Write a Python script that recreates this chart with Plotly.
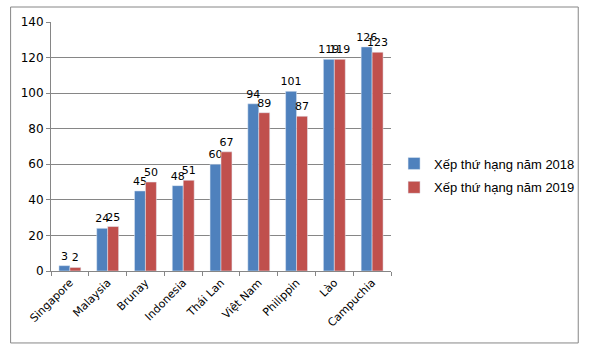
import plotly.graph_objects as go

categories = ["Singapore", "Malaysia", "Brunay", "Indonesia", "Thái Lan", "Việt Nam", "Philippin", "Lào", "Campuchia"]
rank_2018 = [3, 24, 45, 48, 60, 94, 101, 119, 126]
rank_2019 = [2, 25, 50, 51, 67, 89, 87, 119, 123]
series_names = ["Xếp thứ hạng năm 2018", "Xếp thứ hạng năm 2019"]
colors = ["#4F81BD", "#C0504D"]

fig = go.Figure()
for i, (name, vals, col) in enumerate(zip(series_names, [rank_2018, rank_2019], colors)):
    fig.add_trace(go.Bar(
        x=categories, y=vals, name=name, marker_color=col, legendgroup=f"g{i}",
        text=vals, textposition="outside", cliponaxis=False,
        textfont=dict(family="DejaVu Sans", size=11, color="#000000"),
    ))

fig.update_layout(
    width=592, height=349,
    margin=dict(l=51, r=196, t=22, b=78),
    paper_bgcolor="white", plot_bgcolor="white",
    barmode="group", bargap=0.42, bargroupgap=0,
    font=dict(family="DejaVu Sans", size=11, color="#000000"),
    legend=dict(x=1.009, y=0.492, xanchor="left", yanchor="top",
                font=dict(family="Liberation Sans", size=13),
                tracegroupgap=4, bgcolor="rgba(0,0,0,0)"),
    uniformtext=dict(mode="show", minsize=11),
    shapes=[dict(type="rect", xref="paper", yref="paper",
                 x0=-0.1188, x1=1.5507, y0=-0.289, y1=1.0602,
                 line=dict(color="#868686", width=1), fillcolor="rgba(0,0,0,0)", layer="below")],
)
fig.update_xaxes(
    type="category", tickangle=-45, showgrid=False,
    showline=True, linecolor="#868686", linewidth=1,
    ticks="outside", ticklen=4, tickcolor="#868686", tickson="boundaries",
    tickfont=dict(family="DejaVu Sans", size=11),
)
fig.update_yaxes(
    range=[0, 140], dtick=20, showgrid=True, gridcolor="#868686", gridwidth=1,
    showline=True, linecolor="#868686", linewidth=1,
    ticks="outside", ticklen=4, tickcolor="#868686",
    tickfont=dict(family="DejaVu Sans", size=12), zeroline=False,
)

fig.write_html("out.html")
